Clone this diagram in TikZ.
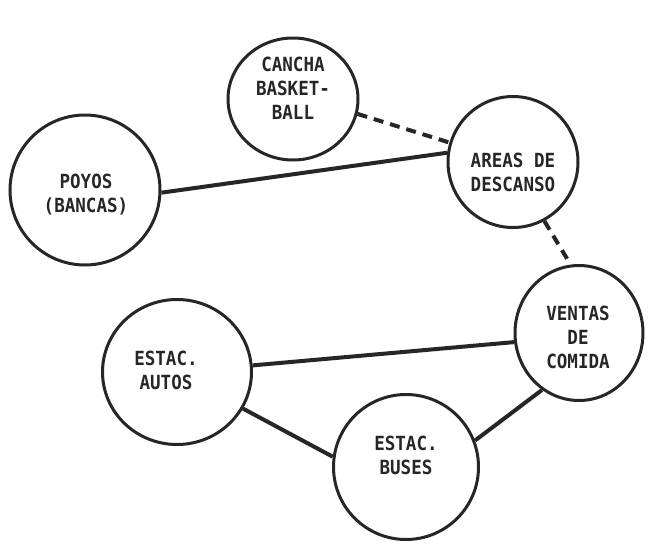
\documentclass[tikz,border=0pt]{standalone}
\usepackage{fontspec}
\newfontfamily\plotfont[FakeStretch=0.9]{DejaVu Sans Mono}
\usetikzlibrary{shapes.geometric}
\tikzset{
  bubble/.style={draw=black!85, line width=3pt, ellipse, inner sep=0pt},
  lbl/.style={font=\plotfont\bfseries\fontsize{19.5}{24}\selectfont, align=center, text=black!85},
  link/.style={draw=black!85, line width=4pt},
  dlink/.style={link, dash pattern=on 10pt off 7pt},
}
\begin{document}
\begin{tikzpicture}[x=1pt,y=-1pt]
\useasboundingbox (0,0) rectangle (662,552);
% circles
\node[bubble, minimum width=130pt, minimum height=122pt] (cancha) at (293,99) {};
\node[bubble, minimum width=130pt, minimum height=131pt] (areas) at (513,162) {};
\node[bubble, minimum width=150pt, minimum height=150pt] (poyos) at (85,190) {};
\node[bubble, minimum width=128pt, minimum height=135pt] (ventas) at (579,333) {};
\node[bubble, minimum width=149pt, minimum height=145pt] (autos) at (177,372) {};
\node[bubble, minimum width=145pt, minimum height=145pt] (buses) at (406,467) {};
% texts
\node[lbl] (cancha-t) at (293,88) {CANCHA\\BASKET-\\BALL};
\node[lbl] (areas-t) at (513,172) {AREAS DE\\DESCANSO};
\node[lbl] (poyos-t) at (86,195) {POYOS\\(BANCAS)};
\node[lbl] (ventas-t) at (578,337) {VENTAS\\DE\\COMIDA};
\node[lbl] (autos-t) at (166,370) {ESTAC.\\AUTOS};
\node[lbl] (buses-t) at (406,455) {ESTAC.\\BUSES};
% connectors
\draw[dlink] (cancha.-13) -- (areas.163);
\draw[link] (poyos.-2) -- (areas.172);
\draw[dlink] (areas.-62) -- (ventas.97);
\draw[link] (autos.5) -- (ventas.188);
\draw[link] (autos.-29) -- (buses.172);
\draw[link] (buses.21) -- (ventas.-123);
\end{tikzpicture}
\end{document}
